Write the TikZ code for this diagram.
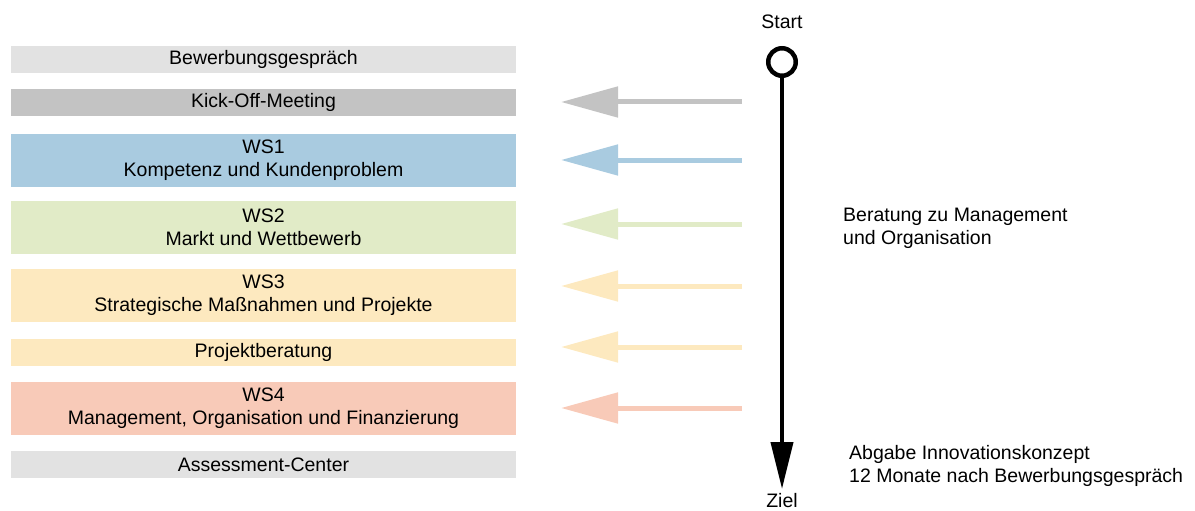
\documentclass[tikz,border=0pt]{standalone}
\usepackage{fontspec}
\setmainfont{Liberation Sans}
\usetikzlibrary{positioning, arrows.meta}

\definecolor{lightgrey}{HTML}{E2E2E2}
\definecolor{midgrey}{HTML}{C3C3C3}
\definecolor{wsblue}{HTML}{A9CBE0}
\definecolor{wsgreen}{HTML}{E1EBC7}
\definecolor{wsyellow}{HTML}{FDE9BF}
\definecolor{wssalmon}{HTML}{F8CAB8}

\begin{document}
\begin{tikzpicture}[x=1pt,y=-1pt,font=\fontsize{19.5}{23}\selectfont]
\tikzset{
  phase/.style={rectangle,minimum width=505pt,inner sep=0pt,align=center},
  single/.style={phase,minimum height=27pt},
  double/.style={phase,minimum height=53pt},
  flow/.style={line width=5pt,-{Triangle[length=57pt,width=30pt]}},
  note/.style={anchor=base west,align=left,inner sep=0pt}
}
\useasboundingbox (0,0) rectangle (1195,511);

% phases on the left
\node[single,fill=lightgrey] (bew) at (263.5,59.5) {Bewerbungsgespräch};
\node[single,fill=midgrey] (kick) at (263.5,102.5) {Kick-Off-Meeting};
\node[double,fill=wsblue] (ws1) at (263.5,160.5) {WS1\\Kompetenz und Kundenproblem};
\node[double,fill=wsgreen] (ws2) at (263.5,227.5) {WS2\\Markt und Wettbewerb};
\node[double,fill=wsyellow] (ws3) at (263.5,295.5) {WS3\\Strategische Maßnahmen und Projekte};
\node[single,fill=wsyellow] (proj) at (263.5,352.5) {Projektberatung};
\node[double,fill=wssalmon] (ws4) at (263.5,408.5) {WS4\\Management, Organisation und Finanzierung};
\node[single,fill=lightgrey] (ac) at (263.5,464.5) {Assessment-Center};

% consulting arrows
\foreach \i/\y/\c in {1/102/midgrey,2/160/wsblue,3/224/wsgreen,4/286/wsyellow,5/347/wsyellow,6/408/wssalmon}{
  \coordinate (from\i) at (742,\y);
  \coordinate (to\i) at (561,\y);
  \draw[flow,\c] (from\i) -- (to\i);
}

% timeline
\node[circle,draw,line width=4.5pt,minimum size=27.5pt,inner sep=0pt] (start) at (782,62) {};
\node[anchor=base] (startlbl) at (782,29) {Start};
\coordinate (goal) at (782,489);
\node[anchor=base] (ziel) at (782,507) {Ziel};
\draw[line width=4pt,-{Triangle[length=47pt,width=22pt]}] (start) -- (goal);

% notes (base = last line)
\node[note] (beratung) at (843,244) {Beratung zu Management\\und Organisation};
\node[note] (abgabe) at (849,482) {Abgabe Innovationskonzept\\12 Monate nach Bewerbungsgespräch};
\end{tikzpicture}
\end{document}
